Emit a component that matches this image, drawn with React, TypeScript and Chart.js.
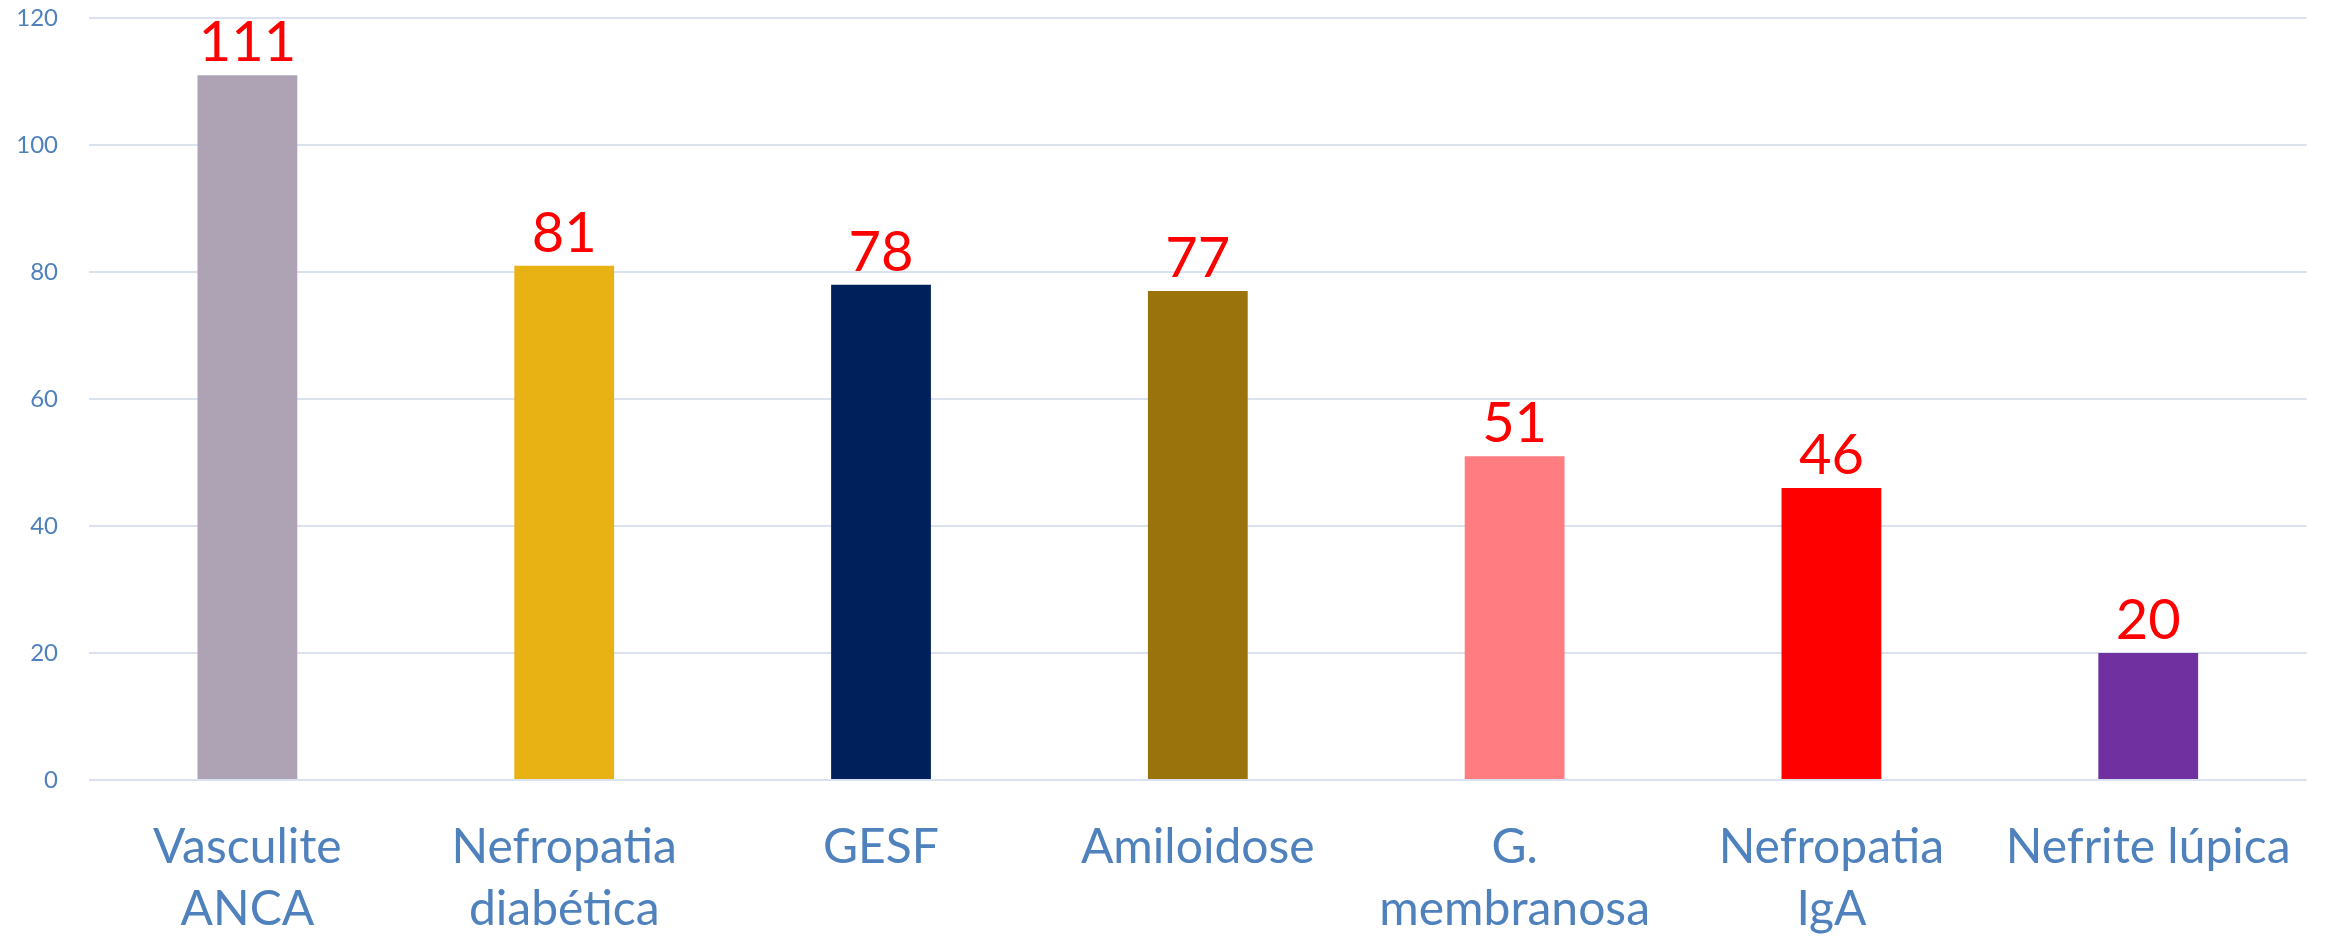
import React, { useEffect, useRef } from "react";
import { Chart, registerables } from "chart.js";

Chart.register(...registerables);

const categories: (string | string[])[] = [
  ["Vasculite", "ANCA"],
  ["Nefropatia", "diabética"],
  "GESF",
  "Amiloidose",
  ["G.", "membranosa"],
  ["Nefropatia", "IgA"],
  "Nefrite lúpica",
];
const values = [111, 81, 78, 77, 51, 46, 20];
const barColors = ["#ADA3B5", "#E8B215", "#00205B", "#9A730D", "#FF7C80", "#FF0000", "#7030A0"];
const yTicks = [0, 20, 40, 60, 80, 100, 120];

const FONT = "Lato, 'Open Sans', sans-serif";

const valueLabels = {
  id: "valueLabels",
  afterDatasetsDraw(chart: any) {
    const ctx = chart.ctx;
    const meta = chart.getDatasetMeta(0);
    ctx.save();
    ctx.fillStyle = "#FF0000";
    ctx.font = `56px ${FONT}`;
    ctx.textAlign = "center";
    ctx.textBaseline = "alphabetic";
    meta.data.forEach((bar: any, i: number) => {
      ctx.fillText(String(values[i]), bar.x, bar.y - 14);
    });
    ctx.restore();
  },
};

export default function App() {
  const ref = useRef<HTMLCanvasElement | null>(null);
  useEffect(() => {
    if (!ref.current) return;
    const chart = new Chart(ref.current, {
      type: "bar",
      data: {
        labels: categories as any,
        datasets: [
          {
            data: values,
            backgroundColor: barColors,
            barPercentage: 0.315,
            categoryPercentage: 1,
          },
        ],
      },
      options: {
        animation: false,
        responsive: true,
        maintainAspectRatio: false,
        layout: { padding: { top: 18, right: 19, left: 0, bottom: 0 } },
        plugins: { legend: { display: false }, tooltip: { enabled: false } },
        scales: {
          x: {
            grid: { display: false, drawTicks: false },
            border: { display: false },
            ticks: {
              color: "#4F81BD",
              font: { family: FONT, size: 48, lineHeight: 1.3 },
              padding: 36,
              maxRotation: 0,
              minRotation: 0,
              autoSkip: false,
            },
            afterFit: (scale: any) => {
              scale.height = 162;
            },
          },
          y: {
            min: 0,
            max: 120,
            afterBuildTicks: (scale: any) => {
              scale.ticks = yTicks.map((v) => ({ value: v }));
            },
            grid: { color: "#D9E2EE", lineWidth: 2, drawTicks: false },
            border: { display: false },
            ticks: {
              color: "#4F81BD",
              font: { family: FONT, size: 24 },
              padding: 31,
            },
            afterFit: (scale: any) => {
              scale.width = 89;
              scale.paddingTop = 0;
              scale.paddingBottom = 0;
            },
          },
        },
      },
      plugins: [valueLabels],
    });
    return () => chart.destroy();
  }, []);
  return (
    <div style={{ position: "fixed", left: 0, top: 0, width: 2328, height: 942, background: "#fff" }}>
      <canvas ref={ref} />
    </div>
  );
}
